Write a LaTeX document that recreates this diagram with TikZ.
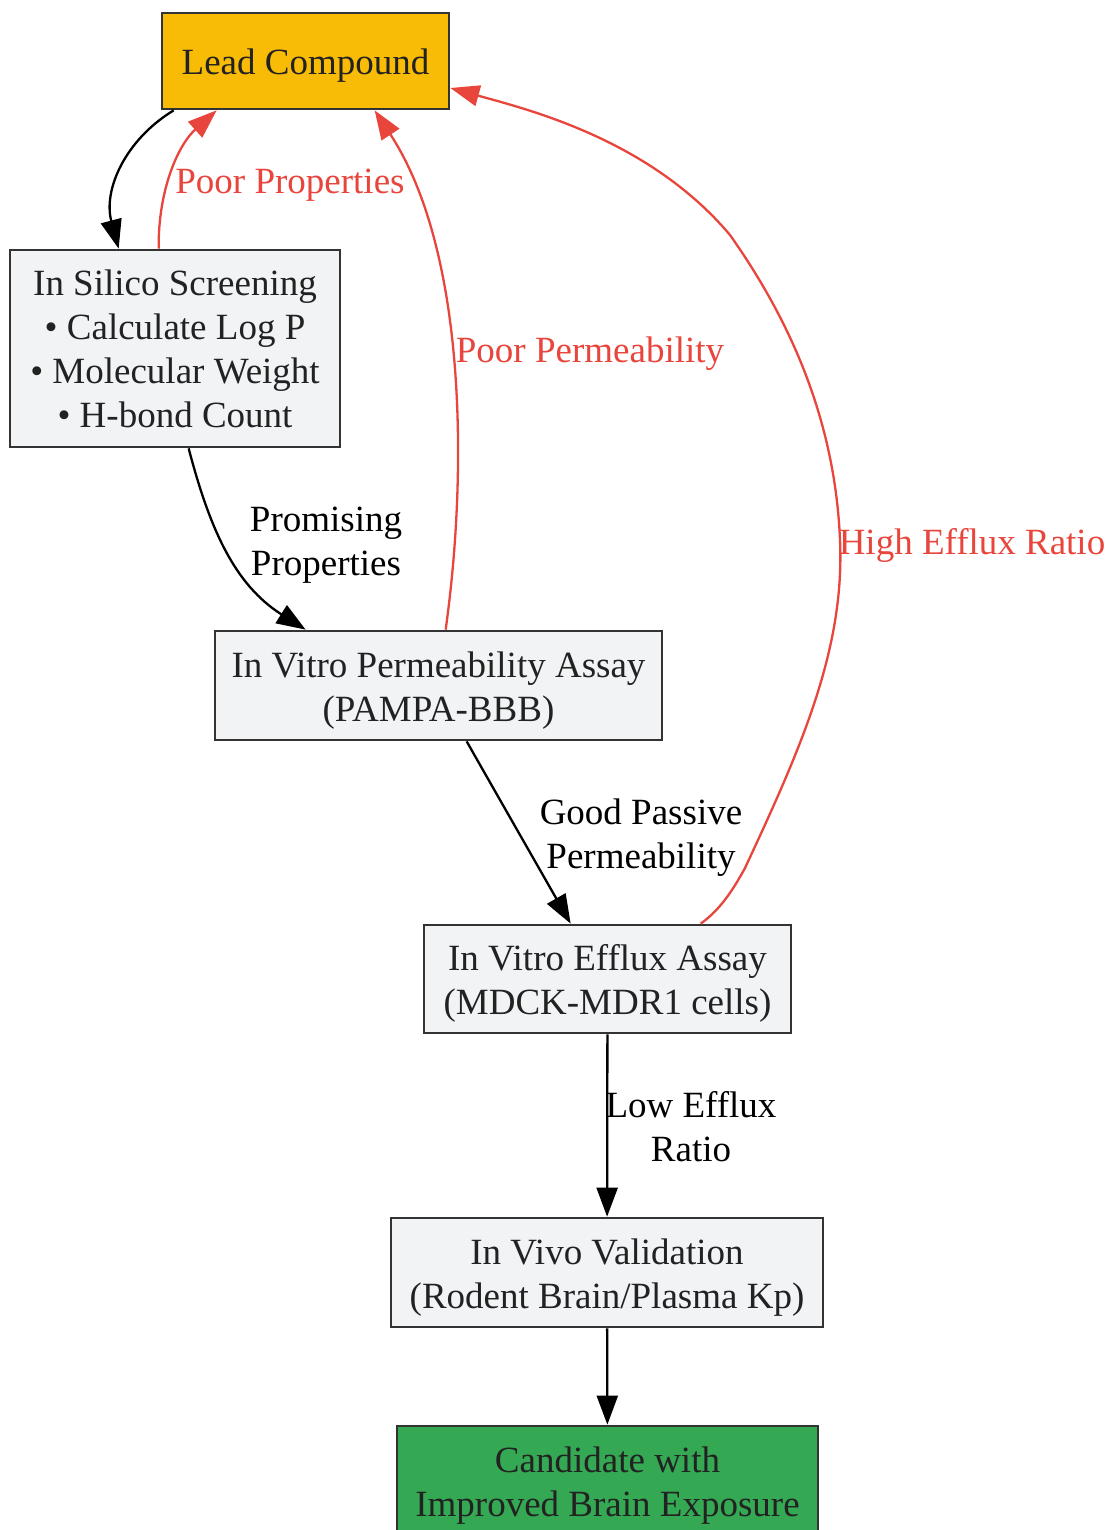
\documentclass[tikz,border=0pt]{standalone}
\usepackage{fontspec}
\setmainfont{Liberation Serif}
\usepackage{tikz}
\usetikzlibrary{arrows.meta}
\definecolor{leadfill}{HTML}{F9BC06}
\definecolor{candfill}{HTML}{34A853}
\definecolor{boxfill}{HTML}{F1F3F5}
\definecolor{boxline}{HTML}{333333}
\definecolor{textdark}{HTML}{222222}
\definecolor{poorred}{HTML}{E8453C}
\newcommand\topgap{\rule{0pt}{35pt}}

\begin{document}
\begin{tikzpicture}[x=1pt,y=-1pt]
\tikzset{stage/.style = {shape=rectangle,draw=boxline,line width=2.7pt,fill=boxfill,
  text=textdark,align=center,inner sep=0pt,font=\fontsize{37}{44}\selectfont}}
\tikzset{edge/.style = {->,>={Triangle[length=29pt,width=21pt]},line width=2.3pt}}
\tikzset{fail/.style = {edge,draw=poorred}}
\tikzset{lbl/.style = {align=center,font=\fontsize{37}{44}\selectfont}}
\useasboundingbox (0,0) rectangle (1109,1530);
% vertices
\node[stage,fill=leadfill,minimum width=287pt,minimum height=96pt] (lead) at (305.5,61) {\topgap Lead Compound};
\node[stage,minimum width=330pt,minimum height=197pt] (silico) at (175,348.5) {In Silico Screening\\ • Calculate Log P\\ • Molecular Weight\\ • H-bond Count};
\node[stage,minimum width=447pt,minimum height=109pt] (pampa) at (438.5,685.5) {\topgap In Vitro Permeability Assay\\ (PAMPA-BBB)};
\node[stage,minimum width=367pt,minimum height=108pt] (efflux) at (607.5,979) {\topgap In Vitro Efflux Assay\\ (MDCK-MDR1 cells)};
\node[stage,minimum width=432pt,minimum height=109pt] (vivo) at (607,1272.5) {\topgap In Vivo Validation\\ (Rodent Brain/Plasma Kp)};
\node[stage,fill=candfill,minimum width=421pt,minimum height=109pt] (cand) at (607.5,1480.5) {\topgap Candidate with\\ Improved Brain Exposure};
% labels
\node[lbl,text=poorred] (l1) at (290,185) {Poor Properties};
\node[lbl] (l2) at (326,545) {Promising\\ Properties};
\node[lbl,text=poorred] (l3) at (590,354) {Poor Permeability};
\node[lbl] (l4) at (641,838) {Good Passive\\ Permeability};
\node[lbl,text=poorred] (l5) at (972,545) {High Efflux Ratio};
\node[lbl] (l6) at (691,1127) {Low Efflux\\ Ratio};
%edges
\draw[edge] ([xshift=13pt]lead.south west) .. controls (125,140) and (103,190) .. ([xshift=110pt]silico.north west);
\draw[fail] ([xshift=150pt]silico.north west) .. controls (158,190) and (178,145) .. ([xshift=56pt]lead.south west);
\draw[edge] ([xshift=180pt]silico.south west) .. controls (210,530) and (235,585) .. ([xshift=92pt]pampa.north west);
\draw[fail] ([xshift=232pt]pampa.north west) .. controls (468,470) and (466,250) .. ([xshift=214pt]lead.south west);
\draw[edge] ([xshift=253pt]pampa.south west) .. controls (500,800) and (540,870) .. ([xshift=148pt]efflux.north west);
\draw[fail] ([xshift=278pt]efflux.north west) .. controls (720,910) and (733,890) .. (745,868)
  .. controls (800,750) and (845,650) .. (840,540) .. controls (835,420) and (790,320) .. (730,235)
  .. controls (650,140) and (530,110) .. (lead.east |- 0,88);
\draw[edge] (efflux) -- (vivo);
\draw[edge] (vivo) -- (cand);
\end{tikzpicture}
\end{document}
